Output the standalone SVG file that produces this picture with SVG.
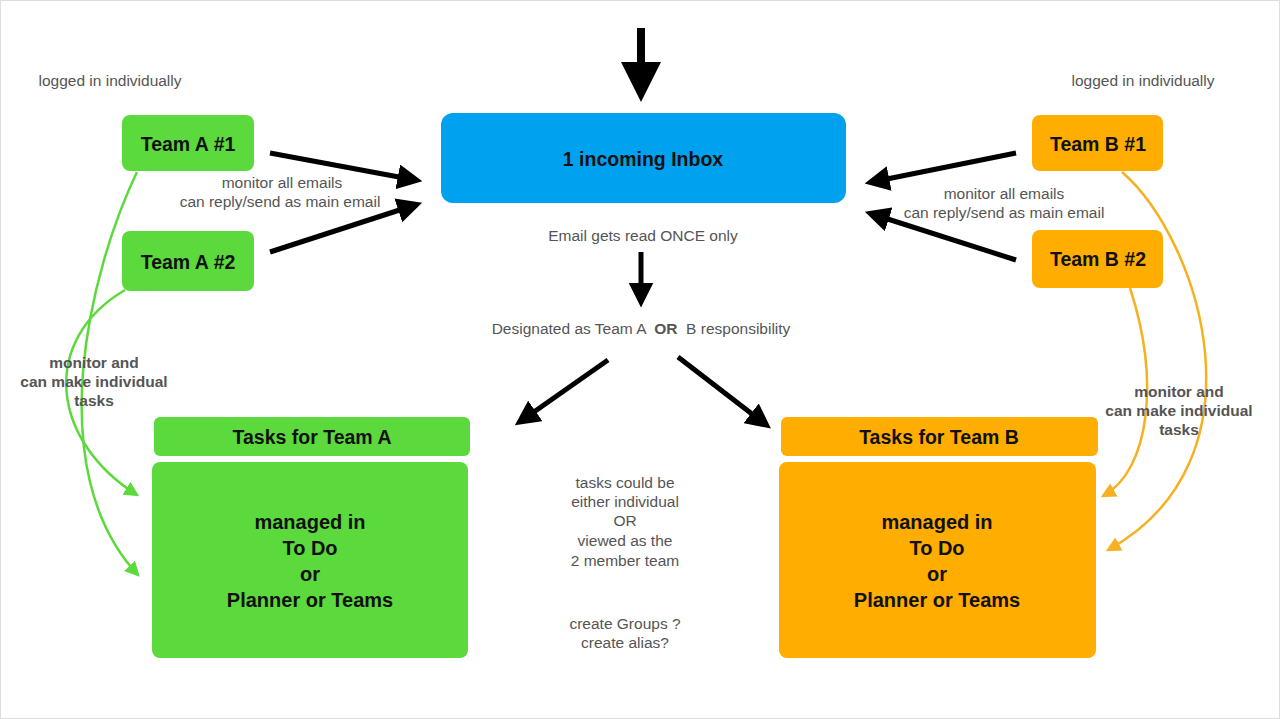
<svg xmlns="http://www.w3.org/2000/svg" width="1280" height="719" viewBox="0 0 1280 719">
<style>
.lbl{font-family:"Liberation Sans",Arial,sans-serif;font-size:15.5px;fill:#555;text-anchor:middle}
.b{font-weight:bold}
.node{font-family:"Liberation Sans",Arial,sans-serif;font-weight:bold;font-size:19.5px;fill:#111;text-anchor:middle}
.big{font-size:20px}
.blk{stroke:#000;stroke-width:5;fill:none}
.g{stroke:#5CD93C;stroke-width:2.5;fill:none}
.o{stroke:#F7B020;stroke-width:2.5;fill:none}
</style>
<defs>
<marker id="ah" markerWidth="5" markerHeight="5" refX="3.5" refY="2.5" orient="auto" markerUnits="strokeWidth"><path d="M0,0 L5,2.5 L0,5 Z" fill="#000"/></marker>
<marker id="ahg" markerWidth="6" markerHeight="6" refX="5" refY="3" orient="auto" markerUnits="strokeWidth"><path d="M0,0 L6,3 L0,6 Z" fill="#5CD93C"/></marker>
<marker id="aho" markerWidth="6" markerHeight="6" refX="5" refY="3" orient="auto" markerUnits="strokeWidth"><path d="M0,0 L6,3 L0,6 Z" fill="#F7B020"/></marker>
</defs>
<rect width="1280" height="719" fill="#fff"/>
<rect x="0.5" y="0.5" width="1279" height="718" fill="none" stroke="#ddd"/>
<g id="connectors">
<line class="blk" x1="641" y1="28" x2="641" y2="90" marker-end="url(#ah)" style="stroke-width:8"/>
<line class="blk" x1="270" y1="153" x2="415" y2="180" marker-end="url(#ah)"/>
<line class="blk" x1="270" y1="252" x2="415" y2="205" marker-end="url(#ah)"/>
<line class="blk" x1="1016" y1="153" x2="872" y2="182" marker-end="url(#ah)"/>
<line class="blk" x1="1016" y1="260" x2="872" y2="214" marker-end="url(#ah)"/>
<line class="blk" x1="641" y1="252" x2="641" y2="300" marker-end="url(#ah)"/>
<line class="blk" x1="608" y1="360" x2="521" y2="421" marker-end="url(#ah)"/>
<line class="blk" x1="678" y1="357" x2="765" y2="424" marker-end="url(#ah)"/>
<path class="g" d="M137,172 C90,270 40,470 138,575" marker-end="url(#ahg)"/>
<path class="g" d="M125,290 C40,340 50,440 137,495" marker-end="url(#ahg)"/>
<path class="o" d="M1122,172 C1200,240 1270,460 1108,550" marker-end="url(#aho)"/>
<path class="o" d="M1130,288 C1160,380 1150,470 1103,496" marker-end="url(#aho)"/>
</g>
<g id="inbox"><rect x="441" y="113" width="405" height="90" rx="12" fill="#00A2F0"/><text class="node" x="643" y="166">1 incoming Inbox</text></g>
<g id="teamA1"><rect x="122" y="115" width="132" height="56" rx="8" fill="#5CD93C"/><text class="node" x="188" y="151">Team A #1</text></g>
<g id="teamA2"><rect x="122" y="231" width="132" height="60" rx="8" fill="#5CD93C"/><text class="node" x="188" y="269">Team A #2</text></g>
<g id="teamB1"><rect x="1032" y="115" width="131" height="56" rx="8" fill="#FFAD00"/><text class="node" x="1098" y="151">Team B #1</text></g>
<g id="teamB2"><rect x="1032" y="230" width="131" height="58" rx="8" fill="#FFAD00"/><text class="node" x="1098" y="266">Team B #2</text></g>
<g id="tasksA"><rect x="154" y="417" width="316" height="39" rx="6" fill="#5CD93C"/><text class="node" x="312" y="444">Tasks for Team A</text>
<rect x="152" y="462" width="316" height="196" rx="8" fill="#5CD93C"/>
<text class="node big" x="310" y="529">managed in</text><text class="node big" x="310" y="555">To Do</text><text class="node big" x="310" y="581">or</text><text class="node big" x="310" y="607">Planner or Teams</text></g>
<g id="tasksB"><rect x="781" y="417" width="317" height="39" rx="6" fill="#FFAD00"/><text class="node" x="939" y="444">Tasks for Team B</text>
<rect x="779" y="462" width="317" height="196" rx="8" fill="#FFAD00"/>
<text class="node big" x="937" y="529">managed in</text><text class="node big" x="937" y="555">To Do</text><text class="node big" x="937" y="581">or</text><text class="node big" x="937" y="607">Planner or Teams</text></g>
<g id="labels">
<text class="lbl" x="110" y="86">logged in individually</text>
<text class="lbl" x="1143" y="86">logged in individually</text>
<text class="lbl" x="282" y="188">monitor all emails</text>
<text class="lbl" x="280" y="207">can reply/send as main email</text>
<text class="lbl" x="1004" y="199">monitor all emails</text>
<text class="lbl" x="1004" y="218">can reply/send as main email</text>
<text class="lbl" x="643" y="241">Email gets read ONCE only</text>
<text class="lbl" x="641" y="334" xml:space="preserve">Designated as Team A  <tspan class="b">OR</tspan>  B responsibility</text>
<text class="lbl b" x="94" y="368">monitor and</text><text class="lbl b" x="94" y="387">can make individual</text><text class="lbl b" x="94" y="406">tasks</text>
<text class="lbl b" x="1179" y="397">monitor and</text><text class="lbl b" x="1179" y="416">can make individual</text><text class="lbl b" x="1179" y="435">tasks</text>
<text class="lbl" x="625" y="488">tasks could be</text><text class="lbl" x="625" y="507">either individual</text><text class="lbl" x="625" y="526">OR</text><text class="lbl" x="625" y="546">viewed as the</text><text class="lbl" x="625" y="566">2 member team</text>
<text class="lbl" x="625" y="629">create Groups ?</text><text class="lbl" x="625" y="648">create alias?</text>
</g>
</svg>
